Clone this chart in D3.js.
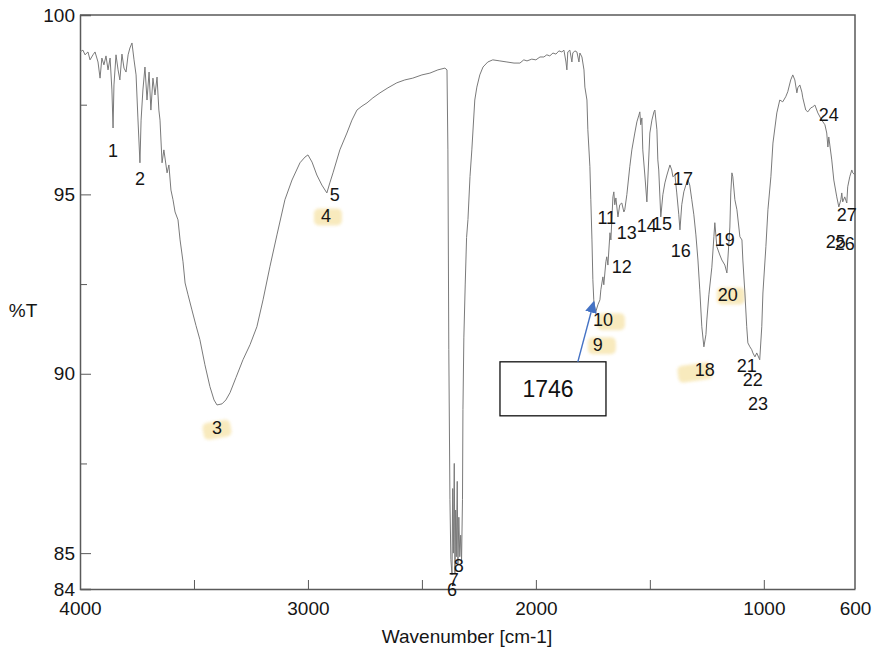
<!DOCTYPE html>
<html>
<head>
<meta charset="utf-8">
<script src="https://cdn.jsdelivr.net/npm/d3@7"></script>
<style>
  body { margin: 0; background: #fff; }
  text { font-family: "Liberation Sans", Arial, Helvetica, sans-serif; }
</style>
</head>
<body>
<svg id="chart" width="872" height="651"></svg>
<script>
// FT-IR transmittance spectrum: [wavenumber (cm-1), %T]
const spectrum = [
  [4000,98.97],[3987,99.02],[3978,98.89],[3965,98.97],[3956,98.75],[3943,98.89],[3934,98.97],[3921,98.69],
  [3912,98.24],[3904,98.80],[3895,98.61],[3886,98.86],[3877,98.47],[3868,98.80],[3860,97.91],[3855,96.85],
  [3851,98.05],[3842,98.89],[3833,98.47],[3825,98.19],[3816,98.91],[3807,98.52],[3798,98.41],[3789,98.89],
  [3781,99.08],[3772,99.22],[3763,98.75],[3754,98.33],[3746,97.13],[3737,95.88],[3732,97.07],[3724,97.91],
  [3715,98.55],[3706,97.63],[3697,98.41],[3689,97.35],[3680,98.24],[3671,97.77],[3662,98.27],[3654,97.35],
  [3649,97.07],[3640,95.88],[3632,96.24],[3618,95.60],[3610,95.82],[3601,95.12],[3592,94.85],[3583,94.51],
  [3570,94.29],[3561,93.73],[3548,93.12],[3539,92.53],[3526,92.20],[3509,91.78],[3491,91.34],[3474,90.95],
  [3452,90.25],[3430,89.64],[3412,89.27],[3399,89.13],[3377,89.16],[3360,89.27],[3342,89.47],[3316,89.89],
  [3285,90.39],[3254,90.81],[3224,91.31],[3197,92.06],[3167,92.98],[3136,93.87],[3101,94.85],[3070,95.40],
  [3035,95.88],[3013,96.04],[3000,96.10],[2982,95.90],[2961,95.54],[2939,95.26],[2917,95.04],[2904,95.32],
  [2890,95.60],[2860,96.24],[2829,96.71],[2807,97.07],[2785,97.35],[2763,97.46],[2741,97.55],[2715,97.69],
  [2684,97.83],[2649,97.97],[2610,98.11],[2575,98.19],[2540,98.24],[2500,98.33],[2465,98.38],[2430,98.47],
  [2399,98.52],[2390,98.47],[2386,96.24],[2382,90.67],[2377,86.49],[2373,84.82],[2368,84.40],[2365,86.80],
  [2362,85.00],[2358,87.50],[2355,84.45],[2352,86.20],[2349,84.90],[2345,87.00],[2342,84.70],[2338,86.00],
  [2334,84.90],[2330,85.50],[2326,84.80],[2322,86.50],[2320,89.00],[2316,91.00],[2310,92.50],[2304,93.80],
  [2298,94.30],[2289,95.50],[2281,96.24],[2268,97.63],[2259,97.99],[2246,98.33],[2232,98.55],[2211,98.69],
  [2189,98.75],[2158,98.72],[2127,98.69],[2096,98.66],[2070,98.66],[2053,98.75],[2039,98.72],[2018,98.77],
  [2000,98.75],[1982,98.83],[1965,98.83],[1952,98.89],[1939,98.86],[1925,98.94],[1912,98.91],[1899,99.00],
  [1886,98.97],[1877,99.02],[1868,98.69],[1864,98.47],[1860,98.97],[1851,99.02],[1842,98.69],[1838,98.94],
  [1829,99.00],[1820,98.97],[1811,98.69],[1807,98.94],[1798,98.83],[1789,98.47],[1785,97.99],[1776,97.63],
  [1772,96.80],[1763,95.77],[1759,94.85],[1754,93.73],[1750,92.62],[1746,92.06],[1741,91.78],[1737,91.73],
  [1728,91.92],[1719,92.06],[1715,92.34],[1706,92.70],[1702,92.48],[1693,93.12],[1689,93.26],[1684,93.03],
  [1675,93.93],[1671,93.73],[1662,94.93],[1658,95.07],[1654,94.71],[1649,94.90],[1640,94.37],[1632,94.71],
  [1623,94.76],[1614,94.51],[1610,94.57],[1601,94.99],[1588,95.77],[1579,96.24],[1566,96.71],[1557,97.02],
  [1548,97.21],[1544,97.30],[1540,96.94],[1535,97.13],[1531,96.24],[1522,95.54],[1513,94.79],[1509,95.40],
  [1500,96.71],[1491,97.07],[1482,97.30],[1478,97.35],[1469,96.80],[1465,95.96],[1461,95.68],[1452,94.37],
  [1443,94.99],[1434,95.32],[1425,95.54],[1412,95.82],[1404,95.68],[1399,95.49],[1390,95.54],[1382,95.04],
  [1373,94.43],[1368,94.01],[1360,94.71],[1351,95.07],[1342,95.26],[1333,95.40],[1325,95.26],[1316,94.85],
  [1307,94.43],[1298,93.87],[1289,93.17],[1281,92.34],[1272,91.31],[1263,90.75],[1254,91.09],[1250,91.50],
  [1241,92.20],[1228,92.97],[1219,93.82],[1215,94.21],[1206,93.54],[1193,93.31],[1184,93.17],[1171,93.03],
  [1162,92.81],[1158,93.17],[1149,94.09],[1145,95.04],[1140,95.60],[1136,95.49],[1127,94.85],[1118,94.57],
  [1105,93.82],[1096,93.73],[1092,93.17],[1083,92.25],[1075,91.31],[1070,90.86],[1061,90.75],[1053,90.67],
  [1048,90.58],[1039,90.47],[1031,90.58],[1018,90.39],[1009,91.31],[1004,92.25],[991,93.54],[982,94.57],
  [969,95.49],[960,96.43],[943,97.27],[930,97.63],[917,97.58],[904,97.72],[895,97.86],[882,98.19],
  [873,98.33],[864,98.19],[855,97.83],[851,97.97],[842,98.05],[833,97.85],[829,97.69],[816,97.35],
  [807,97.30],[794,97.41],[785,97.44],[776,97.49],[763,97.27],[746,97.07],[732,96.94],[724,96.71],
  [719,96.32],[715,96.60],[702,95.96],[693,95.40],[680,94.93],[671,94.65],[662,94.85],[658,95.04],
  [654,94.79],[645,94.93],[636,94.76],[632,95.21],[623,95.49],[614,95.68],[610,95.60],[600,95.54]
];

// Axis ticks
const yTickLabels = [100, 95, 90, 85, 84];
const yMinorTicks = [97.5, 92.5, 87.5];
const xTickLabels = [4000, 3000, 2000, 1000, 600];
const xTickMarks = [3500, 3000, 2500, 2000, 1500, 1000];

// Peak-pick numbering, anchored in data units
const peakIds = [1,2,3,4,5,6,7,8,9,10,11,12,13,14,15,16,17,18,19,20,21,22,23,24,25,26,27];
const peakWavenumber = [3855,3737,3399,2921,2882,2368,2360,2338,1728,1706,1689,1623,1601,1513,1447,
  1364,1355,1259,1171,1158,1075,1048,1026,715,684,645,636];
const peakTransmittance = [96.18,95.38,88.44,94.37,94.96,83.93,84.21,84.62,90.78,91.45,94.32,92.95,93.90,
  94.07,94.15,93.40,95.40,90.06,93.70,92.17,90.17,89.78,89.11,97.19,93.65,93.59,94.40];
const highlightedPeaks = [3, 4, 9, 10, 18, 20];

// Call-out for the carbonyl band
const calloutLabel = "1746";
const calloutWavenumber = 1746;
const calloutTransmittance = 92.0;
const calloutBoxWavenumber = 1925;
const calloutBoxTransmittance = 89.58;
const calloutArrowBaseWavenumber = 1816;

const svg = d3.select("#chart");
const plotLeft = 80, plotRight = 855, plotTop = 15, plotBottom = 589;

const x = d3.scaleLinear().domain([4000, 600]).range([plotLeft, plotRight]);
const y = d3.scaleLinear().domain([84, 100]).range([plotBottom, plotTop]);

const axisColor = "#5a5a5a";
const textColor = "#151515";

// blur for marker-pen highlights, arrowhead for the call-out
const defs = svg.append("defs");
defs.append("filter").attr("id", "soft")
  .attr("x", "-30%").attr("y", "-50%").attr("width", "160%").attr("height", "200%")
  .append("feGaussianBlur").attr("stdDeviation", 1.8);
defs.append("marker").attr("id", "arrowhead")
  .attr("viewBox", "0 0 10 10").attr("refX", 9).attr("refY", 5)
  .attr("markerWidth", 8.5).attr("markerHeight", 8.5).attr("orient", "auto")
  .attr("markerUnits", "strokeWidth")
  .append("path").attr("d", "M0,0 L10,5 L0,10 Z").attr("fill", "#4472c4");

// highlight offsets (px) relative to the peak number: [dx, dy, rotation]
const highlightShift = {3: [0, 0, -10], 4: [2, 0, 0], 9: [4, 0, 0], 10: [8, 0, 0], 18: [-10, 1, -8], 20: [3, 0, 0]};
const hl = svg.append("g");
peakIds.forEach((id, i) => {
  if (!highlightedPeaks.includes(id)) return;
  const [dx, dy, rot] = highlightShift[id];
  const cx = x(peakWavenumber[i]) + dx, cy = y(peakTransmittance[i]) + dy;
  const w = id === 18 ? 34 : 28, h = 17;
  hl.append("rect")
    .attr("x", cx - w / 2).attr("y", cy - h / 2).attr("width", w).attr("height", h)
    .attr("rx", 5)
    .attr("fill", "#f6e3a8").attr("opacity", 0.75)
    .attr("filter", "url(#soft)")
    .attr("transform", `rotate(${rot},${cx},${cy})`);
});

// frame (top and right edges)
svg.append("path")
  .attr("d", `M${plotLeft},${plotTop}H${plotRight}V${plotBottom}`)
  .attr("fill", "none").attr("stroke", axisColor).attr("stroke-width", 1.5);

// Y axis: labelled major ticks + unlabeled minor ticks (inward)
const yAxis = svg.append("g").attr("transform", `translate(${plotLeft},0)`)
  .call(d3.axisLeft(y).tickValues(yTickLabels).tickSize(-11).tickPadding(5).tickFormat(d3.format("d")));
yAxis.selectAll(".tick line").filter(d => d === 100 || d === 84).remove();
svg.append("g").attr("transform", `translate(${plotLeft},0)`)
  .call(d3.axisLeft(y).tickValues(yMinorTicks).tickSize(-7).tickFormat(""))
  .select(".domain").remove();

// X axis: labels and tick marks
svg.append("g").attr("transform", `translate(0,${plotBottom})`)
  .call(d3.axisBottom(x).tickValues(xTickLabels).tickSize(0).tickPadding(13).tickFormat(d3.format("d")));
svg.append("g").attr("transform", `translate(0,${plotBottom})`)
  .call(d3.axisBottom(x).tickValues(xTickMarks).tickSize(-9).tickFormat(""))
  .select(".domain").remove();

svg.selectAll(".domain").attr("stroke", axisColor).attr("stroke-width", 1.5);
svg.selectAll(".tick line").attr("stroke", axisColor).attr("stroke-width", 1);
svg.selectAll(".tick text")
  .attr("fill", textColor).style("font-size", "19px")
  .style("font-family", "'Liberation Sans', Arial, sans-serif");

// axis titles
svg.append("text").attr("x", 23).attr("y", 312)
  .attr("text-anchor", "middle").attr("dominant-baseline", "middle")
  .attr("fill", textColor).style("font-size", "19px").text("%T");
svg.append("text").attr("x", 467).attr("y", 638)
  .attr("text-anchor", "middle").attr("dominant-baseline", "middle")
  .attr("fill", textColor).style("font-size", "19px").text("Wavenumber [cm-1]");

// spectrum trace
const line = d3.line().x(d => x(d[0])).y(d => y(d[1]));
svg.append("path").datum(spectrum)
  .attr("d", line)
  .attr("fill", "none").attr("stroke", "#7a7a7a").attr("stroke-width", 1)
  .attr("stroke-linejoin", "round");

// peak numbers
svg.append("g").selectAll("text").data(peakIds).join("text")
  .attr("x", (d, i) => x(peakWavenumber[i]))
  .attr("y", (d, i) => y(peakTransmittance[i]))
  .attr("text-anchor", "middle").attr("dominant-baseline", "middle")
  .attr("fill", textColor).style("font-size", "18px")
  .text(d => d);

// call-out box with arrow to the 1746 band
const bx = x(calloutBoxWavenumber), by = y(calloutBoxTransmittance);
const boxW = 106, boxH = 54;
svg.append("rect")
  .attr("x", bx - boxW / 2).attr("y", by - boxH / 2).attr("width", boxW).attr("height", boxH)
  .attr("fill", "#fff").attr("stroke", "#111").attr("stroke-width", 1.3);
svg.append("text").attr("x", bx - 5).attr("y", by + 2)
  .attr("text-anchor", "middle").attr("dominant-baseline", "middle")
  .attr("fill", "#111").style("font-size", "23px").text(calloutLabel);
svg.append("line")
  .attr("x1", x(calloutArrowBaseWavenumber)).attr("y1", by - boxH / 2)
  .attr("x2", x(calloutWavenumber)).attr("y2", y(calloutTransmittance))
  .attr("stroke", "#4472c4").attr("stroke-width", 1.4)
  .attr("marker-end", "url(#arrowhead)");
</script>
</body>
</html>
